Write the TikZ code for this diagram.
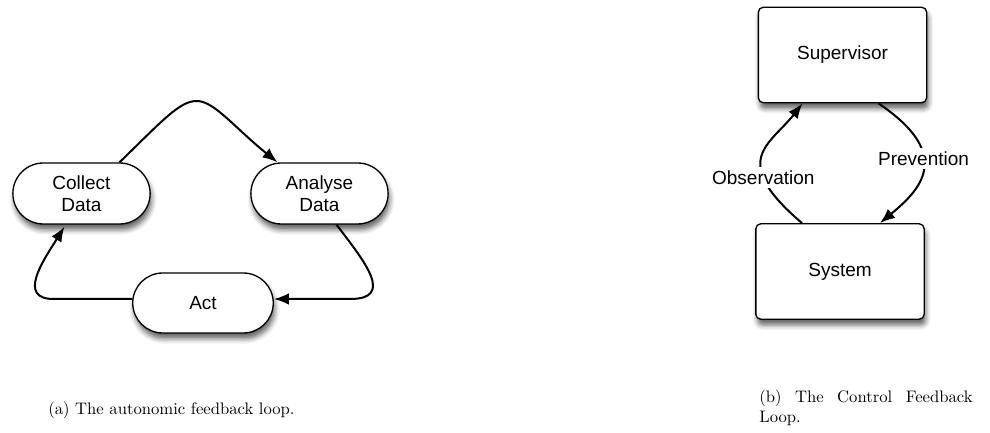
\documentclass[tikz,border=0pt]{standalone}
\usepackage{fontspec}
\newfontfamily\diagfont{Liberation Sans}
\usetikzlibrary{shapes.misc, shadows.blur, arrows.meta, calc}

\begin{document}
\begin{tikzpicture}[x=0.6pt, y=-0.6pt,
   stepnode/.style={draw, line width=0.8pt, fill=white, rounded rectangle,
      minimum width=89pt, minimum height=36.6pt, align=center,
      font=\diagfont\fontsize{11.4}{13}\selectfont,
      blur shadow={shadow xshift=1pt, shadow yshift=-3.5pt, shadow blur radius=3pt, shadow opacity=60}},
   ctrlnode/.style={draw, line width=0.8pt, fill=white, rounded corners=3pt,
      minimum width=101pt, minimum height=57.3pt,
      font=\diagfont\fontsize{11.4}{13}\selectfont,
      blur shadow={shadow xshift=1pt, shadow yshift=-3.5pt, shadow blur radius=3pt, shadow opacity=60}},
   flow/.style={line width=1.2pt, -{Latex[length=9pt,width=7pt]}},
   flowlabel/.style={fill=white, inner sep=2pt, font=\diagfont\fontsize{11.4}{13}\selectfont}]
\useasboundingbox (0,0) rectangle (990,433);

% (a) autonomic loop
\node[stepnode] (collect) at (81.5,193.5) {Collect\\Data};
\node[stepnode] (analyse) at (319.5,193.5) {Analyse\\Data};
\node[stepnode, minimum width=91pt, minimum height=36pt] (act) at (203,303) {Act};

\draw[flow] ($(collect.north)+(38,0)$) .. controls (165,118) and (180,101) .. (197,101)
   .. controls (214,101) and (235,128) .. ($(analyse.north)+(-42,0)$);
\draw[flow] ($(analyse.south)+(17,0)$) .. controls (365,262) and (395,299) .. (350,299)
   -- ($(act.east)+(0,-4)$);
\draw[flow] ($(act.west)+(0,-4)$) -- (55,299) .. controls (15,300) and (45,258)
   .. ($(collect.south)+(-17,2)$);

% (b) control loop
\node[ctrlnode] (super) at (842.5,55) {Supervisor};
\node[ctrlnode] (system) at (840,271.5) {System};

\draw[flow] ($(system.north)+(-38,0)$) .. controls (728,160) and (770,145)
   .. ($(super.south)+(-40,0)$) node[flowlabel, pos=0.3] {Observation};
\draw[flow] ($(super.south)+(36,0)$) .. controls (955,155) and (920,190)
   .. ($(system.north)+(40,0)$) node[flowlabel, pos=0.4] {Prevention};

% captions
\node[anchor=base west, inner sep=0pt] (capa) at (48,415) {(a) The autonomic feedback loop.};
\node[anchor=north west, inner sep=0pt, text width=128pt, align=justify] (capb) at (759,390)
   {(b) The Control Feedback Loop.};
\end{tikzpicture}
\end{document}
